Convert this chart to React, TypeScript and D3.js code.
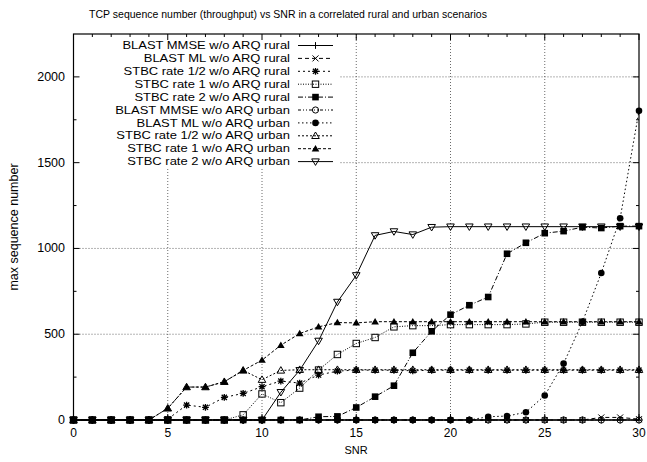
import React from "react";
import * as d3 from "d3";

const snr = d3.range(0, 31);

const blastMmseRural = snr.map(() => 0);
const blastMlRural = [0, 0, 0, 0, 0, 0, 0, 0, 0, 0, 0, 0, 0, 0, 0, 0, 0, 0, 0, 0, 0, 0, 0, 0, 0, 0, 0, 0, 15, 15, 5];
const stbcHalfRural = [0, 0, 0, 0, 0, 5, 87, 74, 132, 155, 194, 227, 215, 262, 285, 291, 290, 290, 287, 290, 290, 290, 290, 290, 290, 290, 290, 290, 290, 290, 290];
const stbcOneRural = [0, 0, 0, 0, 0, 0, 0, 0, 0, 30, 152, 101, 186, 291, 382, 446, 481, 543, 550, 550, 556, 556, 556, 556, 560, 570, 570, 570, 570, 570, 570];
const stbcTwoRural = [0, 0, 0, 0, 0, 0, 0, 0, 0, 0, 0, 0, 0, 19, 21, 73, 136, 200, 392, 517, 614, 669, 717, 969, 1033, 1089, 1101, 1124, 1119, 1130, 1130];
const blastMmseUrban = snr.map(() => 0);
const blastMlUrban = [0, 0, 0, 0, 0, 0, 0, 0, 0, 0, 0, 0, 0, 0, 0, 0, 0, 0, 0, 0, 0, 0, 19, 23, 45, 143, 329, 572, 857, 1176, 1802];
const stbcHalfUrban = [0, 0, 0, 0, 0, 68, 192, 192, 223, 289, 235, 289, 293, 293, 293, 293, 293, 293, 293, 293, 293, 293, 293, 293, 293, 293, 293, 293, 293, 293, 293];
const stbcOneUrban = [0, 0, 0, 0, 0, 68, 192, 192, 223, 289, 349, 436, 504, 543, 568, 566, 573, 573, 573, 573, 573, 573, 573, 573, 573, 573, 573, 573, 573, 573, 573];
const stbcTwoUrban = [0, 0, 0, 0, 0, 0, 0, 0, 0, 0, 0, 162, 290, 461, 688, 843, 1076, 1099, 1081, 1124, 1127, 1127, 1127, 1127, 1127, 1127, 1127, 1127, 1127, 1127, 1127];

const seriesNames = [
  "BLAST MMSE w/o ARQ rural",
  "BLAST ML w/o ARQ rural",
  "STBC rate 1/2 w/o ARQ rural",
  "STBC rate 1 w/o ARQ rural",
  "STBC rate 2 w/o ARQ rural",
  "BLAST MMSE w/o ARQ urban",
  "BLAST ML w/o ARQ urban",
  "STBC rate 1/2 w/o ARQ urban",
  "STBC rate 1 w/o ARQ urban",
  "STBC rate 2 w/o ARQ urban",
];
const seriesValues = [
  blastMmseRural, blastMlRural, stbcHalfRural, stbcOneRural, stbcTwoRural,
  blastMmseUrban, blastMlUrban, stbcHalfUrban, stbcOneUrban, stbcTwoUrban,
];
const markerKinds = ["plus", "cross", "star", "sqOpen", "sqFill", "circOpen", "circFill", "triOpen", "triFill", "triDownOpen"];
const dashes = ["none", "4,3", "2,3", "1,1.5", "5,2,1,2", "3,2,1,2,1,2", "1.5,2.5", "2,2", "3,2", "none"];

const xTicks = [0, 5, 10, 15, 20, 25, 30];
const yTicks = [0, 500, 1000, 1500, 2000];

const W = 647;
const H = 462;
const left = 73.5;
const right = 639;
const top = 34;
const bottom = 420;
const font = "'Liberation Sans', Arial, Helvetica, sans-serif";

function Marker({ kind, x, y }: { kind: string; x: number; y: number }) {
  const s = 3.4;
  const st = { stroke: "#000", strokeWidth: 1 };
  switch (kind) {
    case "plus":
      return <path d={`M${x - s},${y}H${x + s}M${x},${y - s}V${y + s}`} {...st} fill="none" />;
    case "cross":
      return <path d={`M${x - 3},${y - 3}L${x + 3},${y + 3}M${x - 3},${y + 3}L${x + 3},${y - 3}`} {...st} fill="none" />;
    case "star":
      return (
        <path
          d={`M${x - s},${y}H${x + s}M${x},${y - s}V${y + s}M${x - 2.6},${y - 2.6}L${x + 2.6},${y + 2.6}M${x - 2.6},${y + 2.6}L${x + 2.6},${y - 2.6}`}
          {...st}
          strokeWidth={1.3}
          fill="none"
        />
      );
    case "sqOpen":
      return <rect x={x - 3.2} y={y - 3.2} width={6.4} height={6.4} {...st} fill="none" />;
    case "sqFill":
      return <rect x={x - 3.3} y={y - 3.3} width={6.6} height={6.6} fill="#000" />;
    case "circOpen":
      return <circle cx={x} cy={y} r={3.1} {...st} fill="none" />;
    case "circFill":
      return <circle cx={x} cy={y} r={3.3} fill="#000" />;
    case "triOpen":
      return <path d={`M${x},${y - 3.8}L${x + 3.8},${y + 2.7}L${x - 3.8},${y + 2.7}Z`} {...st} fill="none" />;
    case "triFill":
      return <path d={`M${x},${y - 3.8}L${x + 3.8},${y + 2.7}L${x - 3.8},${y + 2.7}Z`} fill="#000" />;
    default:
      return <path d={`M${x},${y + 3.8}L${x + 3.8},${y - 2.7}L${x - 3.8},${y - 2.7}Z`} {...st} fill="none" />;
  }
}

export default function App() {
  const x = d3.scaleLinear().domain([0, 30]).range([left, right]);
  const y = d3.scaleLinear().domain([0, 2250]).range([bottom, top]);
  const line = d3
    .line<number>()
    .x((_, i) => x(snr[i]))
    .y((d) => y(d));

  const minorX = d3.range(0, 31).filter((v) => v % 5 !== 0);
  const minorY = d3.range(250, 2250, 500);

  const legTop = 45.5;
  const legStep = 12.9;

  return (
    <svg width={W} height={H} style={{ position: "absolute", left: 0, top: 0, background: "#fff" }}>
      <rect width={W} height={H} fill="#fff" />
      {/* grid */}
      {xTicks.slice(1, -1).map((t) => (
        <line key={"gx" + t} x1={x(t)} x2={x(t)} y1={top} y2={bottom} stroke="#444" strokeWidth={0.8} strokeDasharray="1,2" />
      ))}
      {yTicks.slice(1).map((t) => (
        <line key={"gy" + t} x1={left} x2={right} y1={y(t)} y2={y(t)} stroke="#444" strokeWidth={0.8} strokeDasharray="1,2" />
      ))}
      {/* legend backdrop */}
      <rect x={left} y={top} width={340 - left} height={167 - top} fill="#fff" />

      {/* series */}
      {seriesValues.map((vals, si) => (
        <g key={"s" + si}>
          <path d={line(vals) || ""} fill="none" stroke="#000" strokeWidth={1} strokeDasharray={dashes[si]} />
          {vals.map((v, i) => (
            <Marker key={i} kind={markerKinds[si]} x={x(snr[i])} y={y(v)} />
          ))}
        </g>
      ))}

      {/* frame and ticks */}
      <rect x={left} y={top} width={right - left} height={bottom - top} fill="none" stroke="#000" strokeWidth={1.2} />
      {xTicks.map((t) => (
        <g key={"tx" + t}>
          <line x1={x(t)} x2={x(t)} y1={bottom} y2={bottom - 6} stroke="#000" />
          <line x1={x(t)} x2={x(t)} y1={top} y2={top + 6} stroke="#000" />
          <text x={x(t)} y={433} textAnchor="middle" dominantBaseline="central" fontSize={12} fontFamily={font}>
            {t}
          </text>
        </g>
      ))}
      {minorX.map((t) => (
        <g key={"mx" + t}>
          <line x1={x(t)} x2={x(t)} y1={bottom} y2={bottom - 3} stroke="#000" />
          <line x1={x(t)} x2={x(t)} y1={top} y2={top + 3} stroke="#000" />
        </g>
      ))}
      {yTicks.map((t) => (
        <g key={"ty" + t}>
          <line x1={left} x2={left + 6} y1={y(t)} y2={y(t)} stroke="#000" />
          <line x1={right} x2={right - 6} y1={y(t)} y2={y(t)} stroke="#000" />
          <text x={65} y={y(t)} textAnchor="end" dominantBaseline="central" fontSize={12.5} fontFamily={font}>
            {t}
          </text>
        </g>
      ))}
      {minorY.map((t) => (
        <g key={"my" + t}>
          <line x1={left} x2={left + 3} y1={y(t)} y2={y(t)} stroke="#000" />
          <line x1={right} x2={right - 3} y1={y(t)} y2={y(t)} stroke="#000" />
        </g>
      ))}

      {/* legend */}
      {seriesNames.map((name, si) => {
        const ly = legTop + si * legStep;
        return (
          <g key={"l" + si}>
            <text
              transform={`translate(290,${ly}) scale(1.18,1)`}
              textAnchor="end"
              dominantBaseline="central"
              fontSize={11}
              fontFamily={font}
            >
              {name}
            </text>
            <line x1={298} x2={333} y1={ly} y2={ly} stroke="#000" strokeWidth={1} strokeDasharray={dashes[si]} />
            <Marker kind={markerKinds[si]} x={315.5} y={ly} />
          </g>
        );
      })}

      {/* titles */}
      <text x={288} y={14} textAnchor="middle" dominantBaseline="central" fontSize={10.5} fontFamily={font}>
        TCP sequence number (throughput) vs SNR in a correlated rural and urban scenarios
      </text>
      <text x={356} y={450} textAnchor="middle" dominantBaseline="central" fontSize={11} fontFamily={font}>
        SNR
      </text>
      <text
        transform={`translate(14,${227}) rotate(-90)`}
        textAnchor="middle"
        dominantBaseline="central"
        fontSize={12.5}
        fontFamily={font}
      >
        max sequence number
      </text>
    </svg>
  );
}
